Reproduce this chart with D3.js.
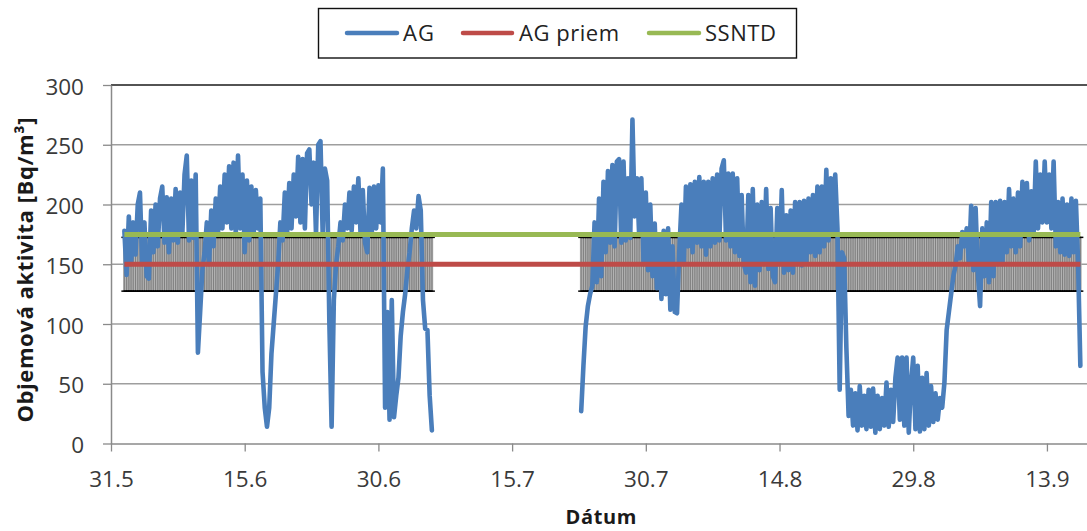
<!DOCTYPE html>
<html>
<head>
<meta charset="utf-8">
<script src="https://cdn.jsdelivr.net/npm/d3@7"></script>
<style>
  html, body { margin: 0; padding: 0; background: #fff; }
  svg { display: block; }
</style>
</head>
<body>
<svg id="chart" width="1087" height="531"></svg>
<script>
// ---- data ----
const seriesNames = ["AG", "AG priem", "SSNTD"];
const yTicks = [0, 50, 100, 150, 200, 250, 300];
const xTickDates = ["2011-05-31", "2011-06-15", "2011-06-30", "2011-07-15",
                    "2011-07-30", "2011-08-14", "2011-08-29", "2011-09-13"];
const xTickLabels = ["31.5", "15.6", "30.6", "15.7", "30.7", "14.8", "29.8", "13.9"];

const agPriem = 150;          // mean AG activity [Bq/m3]
const agPriemError = 0.15;    // ±15 % error bars around the mean
const ssntd = 175;            // SSNTD detector result [Bq/m3]

const agStepHours = 6;
// first measurement campaign
const agStart1 = "2011-06-01T12:00";
const agValues1 = [
  178, 141, 190, 150, 185, 158, 200, 210, 150, 185, 140, 138, 195, 160, 200, 165,
  205, 215, 168, 206, 160, 205, 170, 213, 168, 210, 175, 225, 241, 170, 220, 172,
  225, 76, 110, 145, 160, 185, 150, 195, 165, 205, 175, 215, 180, 225, 185, 232,
  180, 235, 175, 241, 180, 225, 160, 220, 170, 215, 175, 212, 180, 205, 60, 30,
  14, 30, 75, 100, 125, 150, 185, 170, 210, 175, 218, 180, 225, 190, 240, 185,
  238, 180, 243, 246, 200, 235, 175, 250, 253, 175, 230, 220, 100, 14, 120, 150,
  165, 185, 170, 200, 180, 210, 178, 215, 185, 222, 175, 212, 168, 160, 214, 175,
  215, 180, 216, 185, 230, 30, 110, 20, 120, 22, 40, 55, 90, 110, 125, 145,
  160, 180, 195, 180, 207, 195, 120, 96, 95, 40, 11
];
// second measurement campaign
const agStart2 = "2011-07-22T18:00";
const agValues2 = [
  27, 65, 98, 115, 125, 132, 185, 135, 205, 140, 219, 160, 228, 168, 233, 165,
  236, 238, 168, 236, 170, 222, 172, 271, 190, 222, 175, 222, 150, 210, 145, 200,
  140, 184, 130, 175, 121, 178, 125, 180, 112, 165, 110, 109, 160, 200, 150, 215,
  165, 217, 160, 219, 168, 223, 165, 219, 158, 219, 165, 222, 168, 225, 170, 230,
  237, 170, 226, 165, 226, 160, 222, 157, 208, 150, 143, 208, 135, 213, 132, 200,
  145, 202, 150, 213, 146, 197, 140, 135, 197, 150, 212, 143, 191, 145, 195, 143,
  202, 150, 202, 149, 203, 152, 205, 160, 208, 157, 215, 160, 215, 165, 229, 170,
  222, 175, 225, 180, 45, 160, 155, 80, 23, 45, 15, 42, 11, 48, 15, 40,
  12, 45, 14, 46, 9, 40, 12, 38, 15, 51, 14, 45, 18, 55, 72, 20,
  72, 15, 72, 9, 50, 72, 12, 65, 10, 55, 12, 59, 15, 48, 18, 42,
  20, 38, 30, 51, 95, 110, 125, 140, 149, 165, 155, 177, 165, 180, 150, 199,
  145, 197, 143, 115, 180, 140, 185, 135, 202, 140, 202, 150, 203, 150, 202, 160,
  213, 165, 205, 160, 210, 165, 219, 175, 218, 170, 211, 175, 236, 180, 225, 185,
  236, 185, 225, 180, 236, 165, 202, 160, 205, 158, 200, 157, 205, 160, 203, 150,
  65
];

// ---- layout ----
const plot = { left: 111, top: 85, bottom: 443.5, right: 1091.5 };
const colors = { ag: "#4A7EBB", priem: "#BE4B48", ssntd: "#98B954" };
const tickFont = "'Open Sans', 'Noto Sans', sans-serif";

const parseTime = d3.timeParse("%Y-%m-%dT%H:%M");
const parseDay = d3.timeParse("%Y-%m-%d");

function campaign(start, values) {
  const t0 = parseTime(start);
  return values.map((v, i) => ({ date: d3.timeHour.offset(t0, i * agStepHours), value: v }));
}
const seg1 = campaign(agStart1, agValues1);
const seg2 = campaign(agStart2, agValues2);
const allPoints = seg1.concat(seg2);

const x = d3.scaleTime()
  .domain([parseDay("2011-05-31"), parseDay("2011-09-18")])
  .range([plot.left, plot.right]);
const y = d3.scaleLinear().domain([0, 300]).range([plot.bottom, plot.top]);

const svg = d3.select("#chart");

// horizontal gridlines
svg.append("g")
  .selectAll("line")
  .data(yTicks.filter(t => t > 0 && t < 300))
  .join("line")
  .attr("x1", plot.left).attr("x2", plot.right)
  .attr("y1", d => y(d)).attr("y2", d => y(d))
  .attr("stroke", "#9e9e9e").attr("stroke-width", 1.3);

// plot area top border
svg.append("line")
  .attr("x1", plot.left).attr("x2", plot.right)
  .attr("y1", y(300)).attr("y2", y(300))
  .attr("stroke", "#1a1a1a").attr("stroke-width", 1.4);

// error bars of AG priem (±15 %) at each AG timestamp
const errHi = agPriem * (1 + agPriemError);
const errLo = agPriem * (1 - agPriemError);
const eb = svg.append("g");
eb.append("g").selectAll("line")
  .data(allPoints)
  .join("line")
  .attr("x1", d => x(d.date)).attr("x2", d => x(d.date))
  .attr("y1", y(errHi)).attr("y2", y(errLo))
  .attr("stroke", "#ababab").attr("stroke-width", 2.6);
eb.append("g").selectAll("line")
  .data(allPoints)
  .join("line")
  .attr("x1", d => x(d.date)).attr("x2", d => x(d.date))
  .attr("y1", y(errHi)).attr("y2", y(errLo))
  .attr("stroke", "#7a7a7a").attr("stroke-width", 0.9);
[errHi, errLo].forEach(v => {
  eb.append("g").selectAll("line")
    .data(allPoints)
    .join("line")
    .attr("x1", d => x(d.date) - 3).attr("x2", d => x(d.date) + 3)
    .attr("y1", y(v)).attr("y2", y(v))
    .attr("stroke", "#000").attr("stroke-width", 1.5);
});

// AG line
const line = d3.line().x(d => x(d.date)).y(d => y(d.value));
[seg1, seg2].forEach(seg => {
  svg.append("path")
    .datum(seg)
    .attr("d", line)
    .attr("fill", "none")
    .attr("stroke", colors.ag)
    .attr("stroke-width", 4.6)
    .attr("stroke-linejoin", "round")
    .attr("stroke-linecap", "round");
});

// constant levels
const tFirst = seg1[0].date, tLast = seg2[seg2.length - 1].date;
[[agPriem, colors.priem], [ssntd, colors.ssntd]].forEach(([v, c]) => {
  svg.append("path")
    .datum([{ date: tFirst, value: v }, { date: tLast, value: v }])
    .attr("d", line)
    .attr("fill", "none")
    .attr("stroke", c)
    .attr("stroke-width", 5);
});

// axes
function styleAxis(g) {
  g.selectAll(".domain").attr("stroke", "#8a8a8a").attr("stroke-width", 1.5);
  g.selectAll(".tick line").attr("stroke", "#8a8a8a").attr("stroke-width", 1.3);
  g.selectAll(".tick text")
    .attr("fill", "#3a3a3a")
    .style("font-family", tickFont)
    .style("font-size", "22.5px");
}

const yAxis = svg.append("g")
  .attr("transform", `translate(${plot.left},0)`)
  .call(d3.axisLeft(y).tickValues(yTicks).tickSize(8).tickSizeOuter(0).tickPadding(19))
  .call(styleAxis);
yAxis.selectAll(".tick text").attr("dy", "0.4em");

svg.append("g")
  .attr("transform", `translate(0,${plot.bottom})`)
  .call(d3.axisBottom(x)
    .tickValues(xTickDates.map(parseDay))
    .tickFormat((d, i) => xTickLabels[i])
    .tickSize(8).tickSizeOuter(0).tickPadding(19.5))
  .call(styleAxis);

// axis titles
svg.append("text")
  .attr("transform", "translate(33,270) rotate(-90)")
  .attr("text-anchor", "middle")
  .attr("textLength", 305)
  .attr("lengthAdjust", "spacing")
  .style("font-family", tickFont)
  .style("font-weight", "bold")
  .style("font-size", "22px")
  .attr("fill", "#1a1a1a")
  .text("Objemová aktivita  [Bq/m³]");

svg.append("text")
  .attr("x", 601).attr("y", 524)
  .attr("text-anchor", "middle")
  .attr("textLength", 71)
  .attr("lengthAdjust", "spacing")
  .style("font-family", tickFont)
  .style("font-weight", "bold")
  .style("font-size", "20px")
  .attr("fill", "#1a1a1a")
  .text("Dátum");

// legend
const legend = svg.append("g");
legend.append("rect")
  .attr("x", 318.5).attr("y", 8.5).attr("width", 478).attr("height", 49.5)
  .attr("fill", "#fff").attr("stroke", "#111").attr("stroke-width", 1.4);
const legendItems = [
  { name: seriesNames[0], color: colors.ag, x1: 347, x2: 397, tx: 403, tw: 31 },
  { name: seriesNames[1], color: colors.priem, x1: 463, x2: 512, tx: 519, tw: 100 },
  { name: seriesNames[2], color: colors.ssntd, x1: 649, x2: 699, tx: 705, tw: 71 }
];
legendItems.forEach(it => {
  legend.append("line")
    .attr("x1", it.x1).attr("x2", it.x2).attr("y1", 33).attr("y2", 33)
    .attr("stroke", it.color).attr("stroke-width", 4.5).attr("stroke-linecap", "round");
  legend.append("text")
    .attr("x", it.tx).attr("y", 40.5)
    .attr("textLength", it.tw)
    .attr("lengthAdjust", "spacing")
    .style("font-family", tickFont)
    .style("font-size", "22px")
    .attr("fill", "#222")
    .text(it.name);
});
</script>
</body>
</html>
